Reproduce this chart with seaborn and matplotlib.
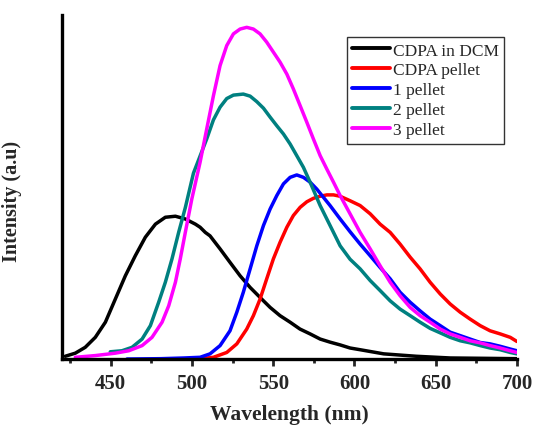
import numpy as np
import pandas as pd
import matplotlib
matplotlib.use("Agg")
import matplotlib.pyplot as plt
import seaborn as sns
from matplotlib.ticker import MultipleLocator

# Emission spectra (wavelength in nm, intensity in arbitrary units)
dcm_wl = [422, 428.2, 434.3, 440.5, 446.7, 452.8, 459.0, 465.1, 471.3, 477.5, 483.6, 489.8,
          495.9, 502.1, 505.0, 508.2, 511.1, 517.3, 523.4, 529.6, 535.8, 541.9, 548.1, 554.2,
          560.4, 566.5, 572.7, 578.9, 585.0, 591.2, 597.3, 603.5, 618, 638, 659, 680, 700]
dcm_int = [0.8, 1.7, 3.4, 6.3, 10.7, 17.4, 24.2, 30.0, 35.4, 39.2, 41.2, 41.5,
           40.7, 39.2, 38.3, 36.8, 35.8, 32.0, 28.1, 24.2, 20.8, 17.9, 15.0, 12.6,
           10.7, 8.7, 7.3, 5.8, 4.9, 4.1, 3.2, 2.7, 1.5, 0.8, 0.3, 0.2, 0.1]

pel_wl = [503, 513.2, 521.4, 527.6, 533.7, 537.8, 541.9, 546.0, 550.1, 554.2, 558.4, 562.4,
          566.6, 570.7, 574.7, 578.9, 583.0, 587.1, 591.2, 597.3, 603.5, 609.7, 615.8, 622.0,
          628.1, 634.3, 640.4, 646.6, 652.8, 658.9, 665.1, 671.2, 677.4, 683.5, 689.7, 695.9, 700]
pel_int = [0.0, 0.5, 1.9, 4.4, 8.7, 12.6, 17.4, 23.3, 29.1, 33.9, 38.3, 41.7,
           44.1, 45.7, 46.7, 47.3, 47.7, 47.7, 47.3, 46.0, 44.6, 42.2, 39.2, 36.8,
           33.4, 29.6, 26.2, 22.3, 18.9, 16.0, 13.6, 11.6, 9.7, 8.2, 7.3, 6.3, 5.1]

p1_wl = [460, 481, 495, 505.0, 511.1, 517.3, 523.4, 527.6, 531.6, 535.8, 539.9, 544.0,
         548.1, 552.2, 556.3, 560.4, 564.5, 568.6, 572.7, 576.8, 580.9, 585.0, 591.2, 597.3,
         603.5, 609.7, 615.8, 622.0, 628.1, 634.3, 640.4, 646.6, 652.8, 658.9, 665.1, 671.2,
         677.4, 683.5, 689.7, 695.9, 700]
p1_int = [0.0, 0.1, 0.3, 0.5, 1.5, 3.9, 8.2, 13.6, 19.4, 26.2, 32.9, 38.8,
          43.6, 47.5, 50.9, 52.8, 53.5, 52.8, 51.4, 49.4, 47.0, 44.6, 40.7, 37.0,
          33.4, 30.0, 26.6, 23.3, 19.4, 16.5, 14.0, 11.6, 9.7, 7.8, 6.8, 5.8,
          4.8, 4.4, 3.7, 2.9, 2.4]

p2_wl = [449.7, 456.9, 463.1, 469.3, 474.4, 479.5, 483.6, 487.7, 491.8, 495.9, 500.9, 505.0,
         509.1, 513.2, 517.3, 521.4, 525.5, 531.6, 535.8, 539.9, 544.0, 548.1, 552.2, 556.3,
         560.4, 564.5, 568.6, 572.7, 578.9, 585.0, 591.2, 597.3, 603.5, 609.7, 615.8, 622.0,
         628.1, 634.3, 640.4, 646.6, 652.8, 658.9, 665.1, 671.2, 677.4, 683.5, 689.7, 695.9, 700]
p2_int = [2.1, 2.4, 3.4, 5.8, 9.7, 16.5, 22.3, 29.1, 36.8, 44.0, 54.0, 59.0,
          64.0, 69.5, 73.2, 75.7, 76.7, 77.0, 76.4, 74.8, 72.9, 70.3, 67.8, 65.4,
          62.5, 59.1, 55.7, 51.4, 44.6, 38.8, 32.9, 29.0, 26.2, 22.8, 19.9, 16.9,
          14.5, 12.6, 10.7, 8.9, 7.6, 6.3, 5.3, 4.7, 3.9, 3.2, 2.7, 1.9, 1.5]

p3_wl = [428.2, 440.5, 452.8, 461.1, 469.3, 475.4, 481.6, 485.7, 489.8, 492.8, 495.9, 499.9,
         505.0, 509.1, 513.2, 517.3, 521.4, 525.5, 529.6, 533.7, 537.8, 541.9, 546.0, 550.1,
         554.2, 558.4, 562.4, 566.6, 570.7, 574.7, 578.9, 583.0, 587.1, 591.2, 597.3, 603.5,
         609.7, 615.8, 622.0, 628.1, 634.3, 640.4, 646.6, 652.8, 658.9, 665.1, 671.2, 677.4,
         683.5, 689.7, 695.9, 700]
p3_int = [0.5, 1.0, 1.7, 2.4, 3.9, 6.3, 10.7, 15.5, 22.3, 29.1, 36.8, 46.5,
          57.2, 66.9, 76.5, 85.3, 91.1, 94.5, 95.9, 96.4, 95.9, 94.5, 92.1, 89.2,
          86.3, 82.8, 78.5, 73.6, 68.8, 64.0, 59.1, 55.2, 51.4, 47.5, 42.2, 36.8,
          32.0, 27.1, 22.3, 18.4, 15.0, 12.6, 10.7, 8.7, 7.3, 6.3, 5.3, 4.7,
          3.9, 3.2, 2.4, 1.9]

labels = ["CDPA in DCM", "CDPA pellet", "1 pellet", "2 pellet", "3 pellet"]
colors = ["#000000", "#ff0000", "#0000ff", "#008080", "#ff00ff"]

series = [(dcm_wl, dcm_int), (pel_wl, pel_int), (p1_wl, p1_int), (p2_wl, p2_int), (p3_wl, p3_int)]
frames = [pd.DataFrame({"Wavelength": w, "Intensity": v, "Sample": lab})
          for (w, v), lab in zip(series, labels)]
df = pd.concat(frames, ignore_index=True)

sns.set_style("ticks")
plt.rcParams["font.family"] = ["Liberation Serif", "DejaVu Serif"]

fig = plt.figure(figsize=(5.34, 4.31), dpi=100)
ax = fig.add_axes([0.1161, 0.1647, 0.8519, 0.7983])

sns.lineplot(data=df, x="Wavelength", y="Intensity", hue="Sample",
             hue_order=labels, palette=dict(zip(labels, colors)),
             estimator=None, sort=False, linewidth=2.5, ax=ax)

ax.set_xlim(420, 700)
ax.set_ylim(0, 100)
ax.xaxis.set_major_locator(MultipleLocator(50))
ax.xaxis.set_minor_locator(MultipleLocator(25))
ax.set_yticks([])
for side in ("top", "right"):
    ax.spines[side].set_visible(False)
for side in ("left", "bottom"):
    ax.spines[side].set_linewidth(2.4)
    ax.spines[side].set_color("black")
ax.tick_params(axis="x", which="major", direction="out", length=5, width=2,
               labelsize=15, pad=5)
ax.tick_params(axis="x", which="minor", direction="out", length=3, width=2)
for t in ax.get_xticklabels():
    t.set_fontweight("bold")

ax.set_xlabel("Wavelength (nm)", fontsize=15.5, fontweight="bold")
ax.xaxis.set_label_coords(0.5, -0.13)
ax.set_ylabel("Intensity (a.u)", fontsize=14.5, fontweight="bold")
ax.yaxis.set_label_coords(-0.088, 0.462)

leg = ax.legend(loc="upper left", bbox_to_anchor=(0.6264, 0.9355),
                fontsize=12.5, frameon=True, fancybox=False, handlelength=2.2,
                handletextpad=0.15, borderpad=0.3, labelspacing=0.22,
                borderaxespad=0)
leg.get_frame().set_edgecolor("black")
leg.get_frame().set_linewidth(1.0)
for line in leg.get_lines():
    line.set_linewidth(2.8)

fig.savefig("out.png", dpi=100)
